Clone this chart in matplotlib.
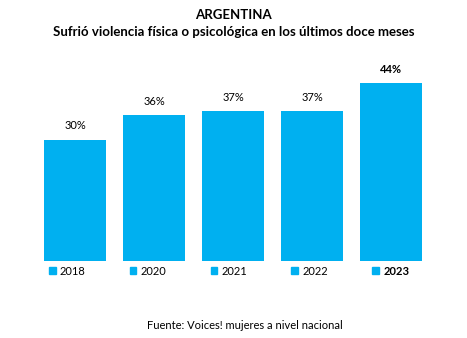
import matplotlib
matplotlib.use("Agg")
import matplotlib.pyplot as plt
from matplotlib.patches import Patch

plt.rcParams['font.family'] = ['Lato', 'DejaVu Sans']

years = ['2018', '2020', '2021', '2022', '2023']
values = [30, 36, 37, 37, 44]
labels = ['30%', '36%', '37%', '37%', '44%']
color = '#00B0F0'

fig = plt.figure(figsize=(4.67, 3.38), dpi=100)
ax = fig.add_axes([0.076, 0.228, 0.846, 0.598])

x = range(len(years))
bars = ax.bar(x, values, width=0.785, color=color)
ax.set_xlim(-0.5, 4.5)
ax.set_ylim(0, 50)
ax.axis('off')

for i, (b, lab) in enumerate(zip(bars, labels)):
    ax.annotate(lab, (b.get_x() + b.get_width() / 2, b.get_height()),
                xytext=(0, 6), textcoords='offset points',
                ha='center', va='bottom', fontsize=8,
                fontweight='bold' if i == len(years) - 1 else 'normal')

handles = [Patch(color=color) for _ in years]
leg = ax.legend(handles, years, ncol=5, loc='upper center',
                bbox_to_anchor=(0.49, 0.025), frameon=False,
                fontsize=8, handlelength=0.6, handleheight=0.6,
                handletextpad=0.4, columnspacing=3.96)
leg.get_texts()[-1].set_fontweight('bold')

fig.text(0.5, 0.955, 'ARGENTINA', ha='center', va='center',
         fontsize=9.5, fontweight='bold')
fig.text(0.5, 0.905, 'Sufrió violencia física o psicológica en los últimos doce meses',
         ha='center', va='center', fontsize=9.5, fontweight='bold')
fig.text(0.525, 0.038, 'Fuente: Voices! mujeres a nivel nacional',
         ha='center', va='center', fontsize=8)

fig.savefig('out.png', dpi=100)
